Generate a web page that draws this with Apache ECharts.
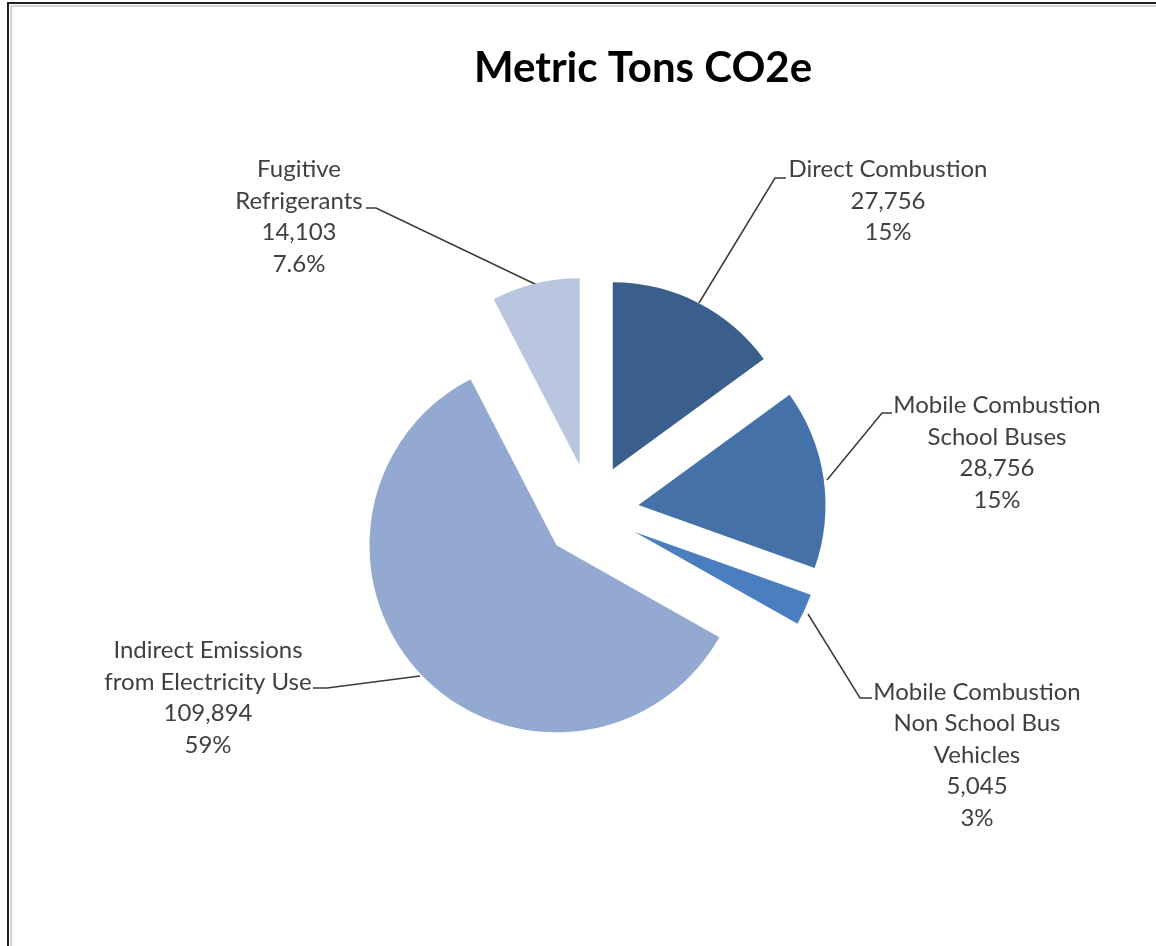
<!DOCTYPE html>
<html>
<head>
<meta charset="utf-8">
<script src="https://cdn.jsdelivr.net/npm/echarts@6/dist/echarts.min.js"></script>
<style>
  html, body { margin: 0; padding: 0; background: #ffffff; }
  #chart { width: 1156px; height: 946px; }
</style>
</head>
<body>
<div id="chart"></div>
<script>
// Slices, clockwise from 12 o'clock
const categories = [
  'Direct Combustion',
  'Mobile Combustion\nSchool Buses',
  'Mobile Combustion\nNon School Bus\nVehicles',
  'Indirect Emissions\nfrom Electricity Use',
  'Fugitive\nRefrigerants'
];
const tons = [27756, 28756, 5045, 109894, 14103];
const pctLabels = ['15%', '15%', '3%', '59%', '7.6%'];
const sliceColors = ['#3a5f8d', '#4472a8', '#4a7ebf', '#93a9d1', '#b9c6e0'];

// where each label block sits, and its leader line (screen px)
const labelSpots = [
  { x: 888, y: 201, line: [[699, 303], [775, 178], [786, 178]] },
  { x: 997, y: 453, line: [[827, 480], [882, 413], [892, 413]] },
  { x: 977, y: 755, line: [[808, 614], [860, 698], [872, 698]] },
  { x: 208, y: 698, line: [[420, 676], [327, 688], [313, 688]] },
  { x: 299, y: 217, line: [[537, 285], [376, 208], [366, 208]] }
];

const pieCenter = [591, 512];
const explode = 48;

const chart = echarts.init(document.getElementById('chart'));

// exploded pie: one pie series per slice, all sharing the same data so the
// angles stay the same; each one shows only its own slice, pushed out along
// the slice's middle angle
const total = tons.reduce((a, b) => a + b, 0);
let before = 0;
const series = tons.map((v, i) => {
  const mid = (before + v / 2) / total * Math.PI * 2;
  before += v;
  const cx = pieCenter[0] + Math.sin(mid) * explode;
  const cy = pieCenter[1] - Math.cos(mid) * explode;
  return {
    type: 'pie',
    center: [cx, cy],
    radius: 187,
    startAngle: 90,
    clockwise: true,
    silent: true,
    data: categories.map((name, j) => ({
      name: name,
      value: tons[j],
      itemStyle: { color: j === i ? sliceColors[j] : 'rgba(0,0,0,0)' },
      label: { show: j === i },
      labelLine: { show: j === i }
    })),
    label: {
      position: 'outside',
      fontFamily: 'Lato',
      fontSize: 24,
      lineHeight: 31.5,
      color: '#404040',
      align: 'center',
      formatter: p => p.name + '\n' + p.value.toLocaleString('en-US') + '\n' + pctLabels[p.dataIndex]
    },
    labelLine: {
      lineStyle: { color: '#3a3a3a', width: 1.5 }
    },
    labelLayout: p => {
      const s = labelSpots[p.dataIndex];
      return {
        x: s.x,
        y: s.y,
        align: 'center',
        verticalAlign: 'middle',
        labelLinePoints: s.line
      };
    }
  };
});

const option = {
  backgroundColor: '#ffffff',
  animation: false,
  title: {
    text: 'Metric Tons CO2e',
    left: 469,
    top: 42,
    textStyle: { fontFamily: 'Lato', fontWeight: 'bold', fontSize: 42, color: '#000000' }
  },
  graphic: [
    { type: 'polyline', shape: { points: [[8, 946], [8, 3], [1156, 3]] }, style: { stroke: '#222222', lineWidth: 2, fill: null } },
    { type: 'polyline', shape: { points: [[11, 946], [11, 6], [1156, 6]] }, style: { stroke: '#d4d4d4', lineWidth: 2, fill: null } }
  ],
  series: series
};

chart.setOption(option);
</script>
</body>
</html>
